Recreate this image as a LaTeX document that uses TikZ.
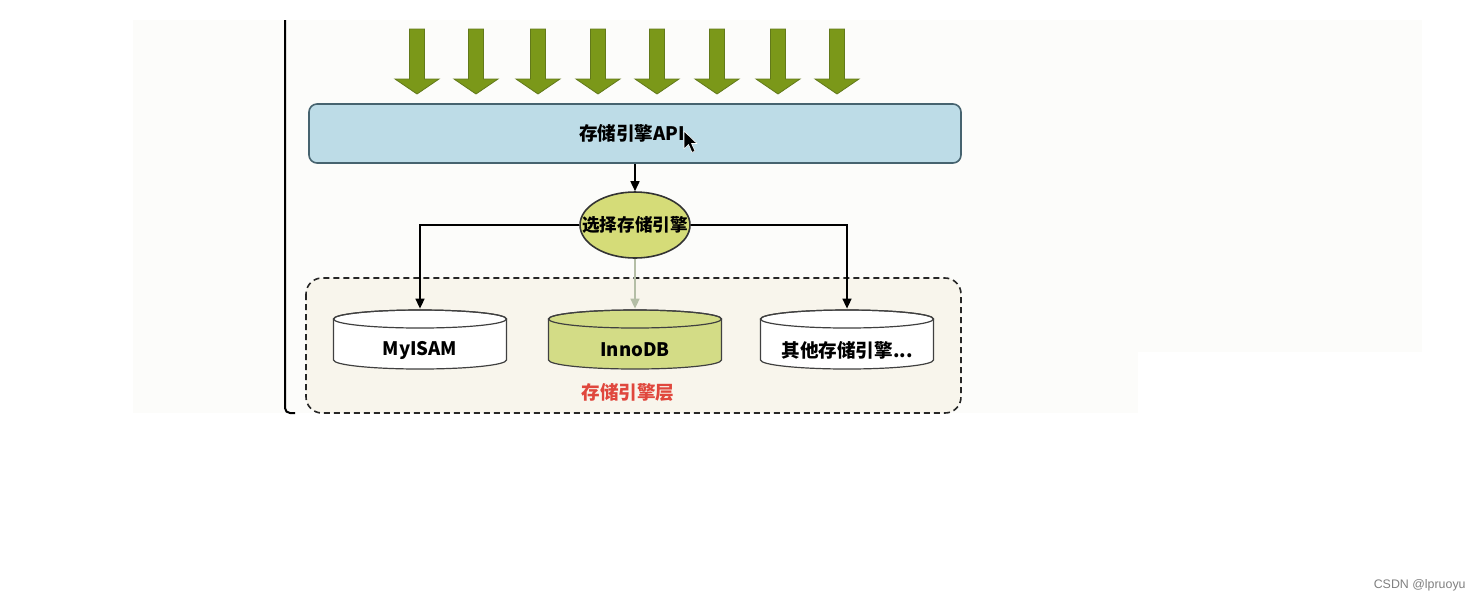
\documentclass[tikz,border=0pt]{standalone}
\usepackage{fontspec}
\setmainfont{Noto Sans CJK SC}
\newfontfamily\wmfont{Liberation Sans}
\usetikzlibrary{arrows.meta,shapes.geometric}
\definecolor{arrowgreen}{HTML}{7B9819}
\definecolor{arrowedge}{HTML}{62791A}
\definecolor{apifill}{HTML}{BDDCE7}
\definecolor{apiedge}{HTML}{46636F}
\definecolor{selfill}{HTML}{D5DC78}
\definecolor{innofill}{HTML}{D3DC86}
\definecolor{layerfill}{HTML}{F8F5EC}
\definecolor{layerred}{HTML}{E0473D}
\definecolor{grayarrow}{HTML}{B4BEA6}
\definecolor{shotbg}{HTML}{FCFCFA}
\tikzset{
  lbl/.style={font=\bfseries\fontsize{9.3}{11}\selectfont, text=black},
  conn/.style={draw=black, line width=0.8pt, -{Triangle[length=5pt,width=4.5pt]}},
  apibox/.style={draw=apiedge, line width=0.8pt, fill=apifill, rounded corners=4pt,
    minimum width=326pt, minimum height=29.5pt, inner sep=0pt},
  selnode/.style={ellipse, draw=black!80, line width=0.8pt, fill=selfill,
    minimum width=55pt, minimum height=33pt, inner sep=0pt},
  cylbox/.style={rectangle, minimum width=86.5pt, minimum height=40pt, inner sep=0pt},
  bigarrow/.style={fill=arrowgreen, draw=arrowedge, line width=0.4pt},
}
\newcommand\mycyl[2]{%
  \draw[fill=#2, draw=black!75, line width=0.6pt] (#1-86.5,319) -- (#1-86.5,360)
    arc[start angle=180, end angle=360, x radius=43.25pt, y radius=4.5pt]
    -- (#1+86.5,319)
    arc[start angle=0, end angle=180, x radius=43.25pt, y radius=4.5pt] -- cycle;
  \draw[draw=black!75, line width=0.6pt] (#1,319) ellipse [x radius=43.25pt, y radius=4.5pt];
}
\begin{document}
\begin{tikzpicture}[x=0.5pt, y=-0.5pt]
\useasboundingbox (0,0) rectangle (1481,602);
\fill[white] (0,0) rectangle (1481,602);
% faint screenshot background
\fill[shotbg] (133,20) rectangle (1422,352);
\fill[shotbg] (133,352) rectangle (1138,413);
% left frame line
\draw[line width=1pt] (285,20) -- (285,408) to[out=-90,in=180] (290,413) -- (295,413);
% input arrows
\foreach \x in {417,476,538,598,657,717,778,837}{
  \draw[bigarrow] (\x-7.5,29) -- (\x+7.5,29) -- (\x+7.5,79) -- (\x+22,79)
    -- (\x,94) -- (\x-22,79) -- (\x-7.5,79) -- cycle;
}
% storage engine layer
\draw[dashed, dash pattern=on 3pt off 2pt, line width=0.8pt, fill=layerfill,
  rounded corners=8pt, draw=black!85] (306,278) rectangle (961,413);
% API box
\node[apibox] (api) at (635,133.5) {};
\node[lbl] (apitext) at (632,133.5) {存储引擎API};
% cursor
\draw[fill=black, draw=white, line width=0.3pt, line join=round]
  (684,131) -- (684,149) -- (688.5,144.5) -- (692,152.5) -- (695,151) -- (691.5,143.5) -- (697,143.5) -- cycle;
% selector
\node[selnode] (sel) at (635,225) {};
\node[lbl, font=\bfseries\fontsize{8.8}{10}\selectfont] (seltext) at (635,225) {选择存储引擎};
% cylinders
\mycyl{420}{white}
\mycyl{635}{innofill}
\mycyl{847}{white}
\node[cylbox, lbl] (myisam) at (420,350) {MyISAM};
\node[cylbox, lbl] (innodb) at (635,350) {InnoDB};
\node[cylbox, lbl] (other) at (847,350) {其他存储引擎...};
\node[lbl, text=layerred] (layer) at (628,392) {存储引擎层};
% connectors
\draw[conn] (api.south) -- (sel.north);
\draw[conn] (sel.west) -| ([yshift=0.5pt]myisam.north);
\draw[conn] (sel.east) -| ([yshift=0.5pt]other.north);
\draw[conn, draw=grayarrow] (sel.south) -- ([yshift=0.5pt]innodb.north);
% watermark
\node[font=\wmfont\fontsize{6.2}{7}\selectfont, text=black!50, anchor=east, inner sep=0pt] (wm) at (1466,585) {CSDN @lpruoyu};
\end{tikzpicture}
\end{document}
